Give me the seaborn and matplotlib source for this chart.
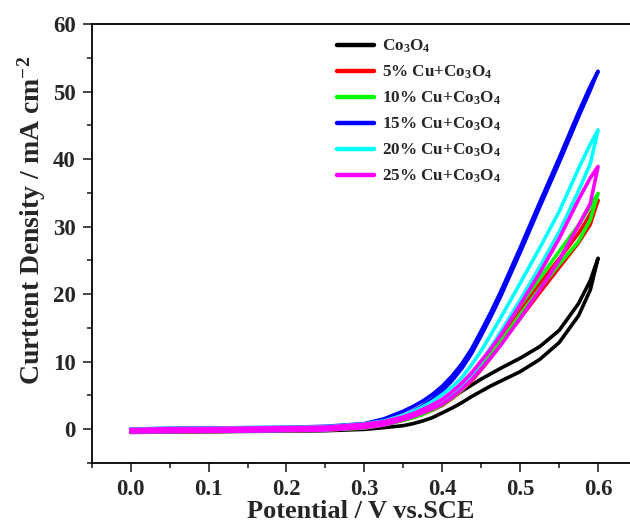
import numpy as np
import pandas as pd
import matplotlib
matplotlib.use('Agg')
import matplotlib.pyplot as plt
from matplotlib.ticker import MultipleLocator, FormatStrFormatter
import seaborn as sns

# Данные: ЛВА-кривые (прямая и обратная развёртка)
potential = [0.0, 0.05, 0.1, 0.15, 0.2, 0.25, 0.3, 0.325, 0.35, 0.3625,
             0.375, 0.3875, 0.4, 0.4125, 0.425, 0.4375, 0.45, 0.4625, 0.475, 0.5,
             0.525, 0.55, 0.575, 0.59, 0.6]

co3o4_fwd = [-0.5, -0.45, -0.4, -0.35, -0.3, -0.25, -0.05, 0.2, 0.5, 0.8,
             1.2, 1.7, 2.4, 3.1, 3.9, 4.8, 5.6, 6.4, 7.1, 8.5,
             10.3, 12.8, 16.8, 20.6, 25.3]
co3o4_rev = [-0.1, 0.0, 0.05, 0.1, 0.15, 0.25, 0.5, 0.9, 1.4, 1.8,
             2.4, 3.0, 3.8, 4.7, 5.6, 6.5, 7.4, 8.2, 9.0, 10.5,
             12.2, 14.6, 18.6, 22.0, 25.3]

cu5_fwd = [-0.45, -0.4, -0.35, -0.3, -0.25, -0.15, 0.15, 0.6, 1.3, 1.7,
           2.2, 2.8, 3.5, 4.5, 5.7, 7.1, 8.8, 10.6, 12.6, 16.4,
           20.2, 23.9, 27.6, 30.3, 33.9]
cu5_rev = [-0.05, 0.05, 0.1, 0.15, 0.2, 0.3, 0.6, 1.0, 1.5, 1.95,
           2.5, 3.2, 4.0, 5.1, 6.4, 8.0, 9.8, 11.8, 13.8, 17.8,
           21.5, 25.2, 29.0, 31.8, 33.9]

cu10_fwd = [-0.45, -0.4, -0.35, -0.3, -0.25, -0.15, 0.15, 0.6, 1.3, 1.7,
            2.2, 2.85, 3.6, 4.6, 5.8, 7.3, 9.0, 10.9, 12.9, 16.9,
            20.8, 24.4, 27.8, 31.0, 34.9]
cu10_rev = [-0.05, 0.05, 0.1, 0.15, 0.2, 0.3, 0.6, 1.0, 1.6, 2.05,
            2.6, 3.3, 4.1, 5.2, 6.5, 8.1, 9.9, 11.9, 14.0, 18.3,
            22.3, 26.3, 30.2, 33.0, 34.9]

cu15_fwd = [-0.4, -0.35, -0.3, -0.25, -0.2, -0.05, 0.3, 0.9, 1.95, 2.65,
            3.45, 4.45, 5.65, 7.15, 8.95, 11.15, 13.85, 16.65, 19.65, 26.15,
            32.85, 39.45, 46.25, 50.2, 53.0]
cu15_rev = [0.0, 0.1, 0.15, 0.2, 0.25, 0.4, 0.8, 1.5, 2.65, 3.35,
            4.15, 5.15, 6.35, 7.85, 9.65, 11.85, 14.55, 17.35, 20.35, 26.85,
            33.55, 40.15, 46.95, 50.8, 53.0]

cu20_fwd = [-0.4, -0.35, -0.3, -0.25, -0.2, -0.1, 0.25, 0.7, 1.6, 2.1,
            2.7, 3.4, 4.2, 5.1, 6.3, 8.0, 9.9, 12.1, 14.4, 19.1,
            24.0, 29.2, 35.3, 39.3, 44.3]
cu20_rev = [0.0, 0.1, 0.15, 0.2, 0.25, 0.35, 0.75, 1.2, 2.0, 2.6,
            3.3, 4.1, 5.1, 6.2, 7.6, 9.5, 11.6, 14.0, 16.5, 21.6,
            26.8, 32.2, 38.6, 42.2, 44.3]

cu25_fwd = [-0.45, -0.4, -0.35, -0.3, -0.25, -0.15, 0.2, 0.6, 1.4, 1.85,
            2.4, 3.0, 3.7, 4.7, 5.9, 7.3, 8.9, 10.6, 12.4, 16.4,
            20.6, 25.0, 30.2, 33.4, 38.9]
cu25_rev = [-0.05, 0.05, 0.1, 0.15, 0.2, 0.3, 0.7, 1.1, 1.8, 2.3,
            2.9, 3.6, 4.4, 5.5, 6.8, 8.3, 10.1, 11.9, 13.9, 18.4,
            23.1, 28.2, 34.0, 37.2, 38.9]

labels = ['Co$_3$O$_4$', '5% Cu+Co$_3$O$_4$', '10% Cu+Co$_3$O$_4$',
          '15% Cu+Co$_3$O$_4$', '20% Cu+Co$_3$O$_4$', '25% Cu+Co$_3$O$_4$']
colors = ['#000000', '#ff0000', '#00ff00', '#0000ff', '#00ffff', '#ff00ff']
sweeps = [(co3o4_fwd, co3o4_rev), (cu5_fwd, cu5_rev), (cu10_fwd, cu10_rev),
          (cu15_fwd, cu15_rev), (cu20_fwd, cu20_rev), (cu25_fwd, cu25_rev)]

# Собираем таблицу: прямая развёртка, затем обратная (петля)
frames = []
for name, (fwd, rev) in zip(labels, sweeps):
    x = potential + potential[::-1][1:]
    y = fwd + rev[::-1][1:]
    frames.append(pd.DataFrame({'potential': x, 'current': y, 'sample': name}))
df = pd.concat(frames, ignore_index=True)

sns.set_style('ticks')
plt.rcParams['font.family'] = ['Liberation Serif', 'DejaVu Serif']
plt.rcParams['font.weight'] = 'bold'
plt.rcParams['mathtext.fontset'] = 'custom'
plt.rcParams['mathtext.rm'] = 'Liberation Serif:bold'
plt.rcParams['mathtext.it'] = 'Liberation Serif:italic:bold'
plt.rcParams['mathtext.bf'] = 'Liberation Serif:bold'
plt.rcParams['mathtext.default'] = 'rm'

fig = plt.figure(figsize=(6.3, 5.29), dpi=100)
ax = fig.add_axes([0.1456, 0.1252, 0.8544, 0.8294])

sns.lineplot(data=df, x='potential', y='current', hue='sample',
             hue_order=labels, palette=dict(zip(labels, colors)),
             sort=False, estimator=None, lw=2.6, ax=ax)
for line in ax.get_lines():
    line.set_solid_joinstyle('round')

ax.set_xlim(-0.05, 0.641)
ax.set_ylim(-5, 60)
ax.xaxis.set_major_locator(MultipleLocator(0.1))
ax.xaxis.set_minor_locator(MultipleLocator(0.05))
ax.xaxis.set_major_formatter(FormatStrFormatter('%.1f'))
ax.yaxis.set_major_locator(MultipleLocator(10))
ax.yaxis.set_minor_locator(MultipleLocator(5))
ax.tick_params(which='major', direction='out', length=6.5, width=1.2,
               labelsize=16.5, pad=5)
ax.tick_params(which='minor', direction='out', length=3.5, width=1.2)
for lab in ax.get_xticklabels() + ax.get_yticklabels():
    lab.set_fontweight('bold')

for side in ['left', 'bottom', 'top']:
    ax.spines[side].set_linewidth(1.3)
    ax.spines[side].set_color('black')
ax.spines['right'].set_visible(False)

ax.set_xlabel('Potential / V vs.SCE', fontsize=19, fontweight='bold', labelpad=0)
ax.set_ylabel('Curttent Density / mA cm$^{-2}$', fontsize=20, fontweight='bold')
ax.yaxis.set_label_coords(-0.081, 0.553)

handles, labs = ax.get_legend_handles_labels()
leg = ax.legend(handles, labs, loc='upper left', bbox_to_anchor=(0.455, 0.968),
                frameon=False, fontsize=12.3, handlelength=2.2, handletextpad=0.45,
                labelspacing=0.5, borderaxespad=0, borderpad=0)
for line in leg.get_lines():
    line.set_linewidth(3.2)

fig.savefig('out.png', dpi=100)
